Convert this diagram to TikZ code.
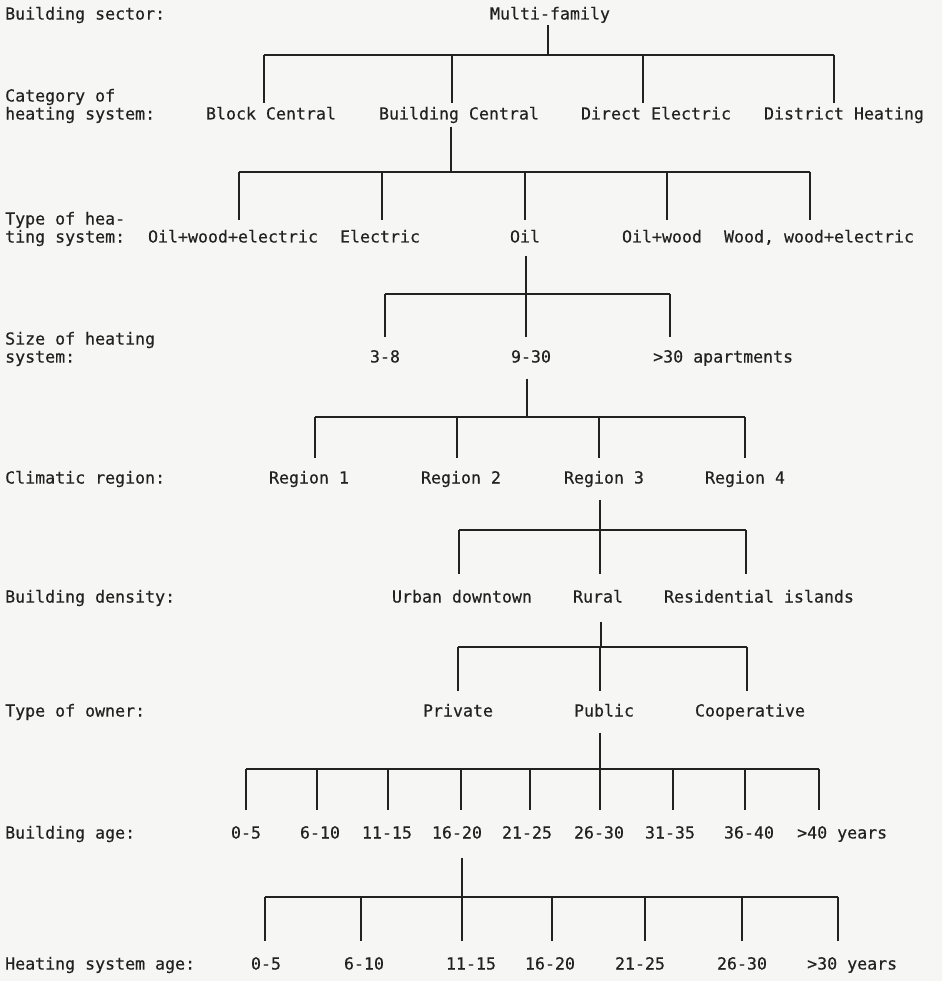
\documentclass[tikz,border=0pt]{standalone}
\usepackage{fontspec}
\setmonofont[FakeBold=0.4]{DejaVu Sans Mono}
\usepackage{tikz}
\definecolor{paper}{HTML}{F6F6F4}
\definecolor{ink}{HTML}{222222}

\begin{document}
\begin{tikzpicture}[x=1pt,y=-1pt,
    font=\ttfamily\fontsize{16.6}{18}\selectfont,
    val/.style={text=ink,text height=12pt,text depth=3pt,inner xsep=0pt,inner ysep=#1},
    val/.default=13pt,
    lbl/.style={text=ink,anchor=west,align=left,inner sep=0pt},
    tie/.style={draw=ink,line width=1.3pt},
    bar/.style={draw=ink,line width=2pt}]
  \fill[paper] (0,0) rectangle (942,981);
  \useasboundingbox (0,0) rectangle (942,981);

  % level names on the left
  \node[lbl] (l0) at (5,15) {Building sector:};
  \node[lbl] (l1) at (5,106) {Category of\\heating system:};
  \node[lbl] (l2) at (5,229) {Type of hea-\\ting system:};
  \node[lbl] (l3) at (5,349) {Size of heating\\system:};
  \node[lbl] (l4) at (5,479) {Climatic region:};
  \node[lbl] (l5) at (5,598) {Building density:};
  \node[lbl] (l6) at (5,712) {Type of owner:};
  \node[lbl] (l7) at (5,834) {Building age:};
  \node[lbl] (l8) at (5,965) {Heating system age:};

  % sector
  \node[val=2.5pt] (mf) at (550,15) {Multi-family};
  \coordinate (j1) at (548,55);
  \draw[tie] (mf.south -| j1) -- (j1);

  % category of heating system
  \node[val=4pt] (blc) at (271,115) {Block Central};
  \node[val=4pt] (buc) at (459,115) {Building Central};
  \node[val=4pt] (dir) at (656,115) {Direct Electric};
  \node[val=4pt] (dis) at (844,115) {District Heating};
  \draw[bar] ([xshift=-7pt]blc.north |- j1) -- ([xshift=-10pt]dis.north |- j1);
  \draw[tie] ([xshift=-7pt]blc.north |- j1) -- ([xshift=-7pt]blc.north);
  \draw[tie] ([xshift=-7pt]buc.north |- j1) -- ([xshift=-7pt]buc.north);
  \draw[tie] ([xshift=-13pt]dir.north |- j1) -- ([xshift=-13pt]dir.north);
  \draw[tie] ([xshift=-10pt]dis.north |- j1) -- ([xshift=-10pt]dis.north);
  \coordinate (j2) at (451,172);
  \draw[tie] (buc.south -| j2) -- (j2);

  % type of heating system
  \node[val=10pt] (owe) at (233,238) {Oil+wood+electric};
  \node[val=10pt] (ele) at (380,238) {Electric};
  \node[val=10pt] (oil) at (525,238) {Oil};
  \node[val=10pt] (ow) at (662,238) {Oil+wood};
  \node[val=10pt] (wwe) at (819,238) {Wood, wood+electric};
  \draw[bar] ([xshift=6pt]owe.north |- j2) -- ([xshift=-9pt]wwe.north |- j2);
  \draw[tie] ([xshift=6pt]owe.north |- j2) -- ([xshift=6pt]owe.north);
  \draw[tie] ([xshift=2pt]ele.north |- j2) -- ([xshift=2pt]ele.north);
  \draw[tie] (oil.north |- j2) -- (oil.north);
  \draw[tie] ([xshift=5pt]ow.north |- j2) -- ([xshift=5pt]ow.north);
  \draw[tie] ([xshift=-9pt]wwe.north |- j2) -- ([xshift=-9pt]wwe.north);
  \coordinate (j3) at (526,294);
  \draw[tie] (oil.south -| j3) -- (j3);

  % size of heating system
  \node[val] (s1) at (385,358) {3-8};
  \node[val] (s2) at (531,358) {9-30};
  \node[val,anchor=west] (s3) at (653,358) {>30 apartments};
  \draw[bar] (s1.north |- j3) -- ([xshift=17pt]s3.north west |- j3);
  \draw[tie] (s1.north |- j3) -- (s1.north);
  \draw[tie] ([xshift=-5pt]s2.north |- j3) -- ([xshift=-5pt]s2.north);
  \draw[tie] ([xshift=17pt]s3.north west |- j3) -- ([xshift=17pt]s3.north west);
  \coordinate (j4) at (527,417);
  \draw[tie] (s2.south -| j4) -- (j4);

  % climatic region
  \node[val] (r1) at (309,479) {Region 1};
  \node[val] (r2) at (461,479) {Region 2};
  \node[val] (r3) at (604,479) {Region 3};
  \node[val] (r4) at (745,479) {Region 4};
  \draw[bar] ([xshift=6pt]r1.north |- j4) -- (r4.north |- j4);
  \draw[tie] ([xshift=6pt]r1.north |- j4) -- ([xshift=6pt]r1.north);
  \draw[tie] ([xshift=-4pt]r2.north |- j4) -- ([xshift=-4pt]r2.north);
  \draw[tie] ([xshift=-5pt]r3.north |- j4) -- ([xshift=-5pt]r3.north);
  \draw[tie] (r4.north |- j4) -- (r4.north);
  \coordinate (j5) at (600,530);
  \draw[tie] (r3.south -| j5) -- (j5);

  % building density
  \node[val=16pt] (urb) at (462,598) {Urban downtown};
  \node[val=16pt] (rur) at (598,598) {Rural};
  \node[val=16pt] (res) at (759,598) {Residential islands};
  \draw[bar] ([xshift=-3pt]urb.north |- j5) -- ([xshift=-13pt]res.north |- j5);
  \draw[tie] ([xshift=-3pt]urb.north |- j5) -- ([xshift=-3pt]urb.north);
  \draw[tie] ([xshift=2pt]rur.north |- j5) -- ([xshift=2pt]rur.north);
  \draw[tie] ([xshift=-13pt]res.north |- j5) -- ([xshift=-13pt]res.north);
  \coordinate (j6) at (601,647);
  \draw[tie] (rur.south -| j6) -- (j6);

  % type of owner
  \node[val] (pri) at (458,712) {Private};
  \node[val] (pub) at (604,712) {Public};
  \node[val] (coo) at (750,712) {Cooperative};
  \draw[bar] (pri.north |- j6) -- ([xshift=-3pt]coo.north |- j6);
  \draw[tie] (pri.north |- j6) -- (pri.north);
  \draw[tie] ([xshift=-4pt]pub.north |- j6) -- ([xshift=-4pt]pub.north);
  \draw[tie] ([xshift=-3pt]coo.north |- j6) -- ([xshift=-3pt]coo.north);
  \coordinate (j7) at (600,769);
  \draw[tie] (pub.south -| j7) -- (j7);

  % building age
  \node[val=16pt] (ba1) at (246,834) {0-5};
  \node[val=16pt] (ba2) at (320,834) {6-10};
  \node[val=16pt] (ba3) at (387,834) {11-15};
  \node[val=16pt] (ba4) at (457,834) {16-20};
  \node[val=16pt] (ba5) at (527,834) {21-25};
  \node[val=16pt] (ba6) at (599,834) {26-30};
  \node[val=16pt] (ba7) at (670,834) {31-35};
  \node[val=16pt] (ba8) at (749,834) {36-40};
  \node[val=16pt,anchor=west] (ba9) at (797,834) {>40 years};
  \draw[bar] (ba1.north |- j7) -- ([xshift=22pt]ba9.north west |- j7);
  \draw[tie] (ba1.north |- j7) -- (ba1.north);
  \draw[tie] ([xshift=-3pt]ba2.north |- j7) -- ([xshift=-3pt]ba2.north);
  \draw[tie] ([xshift=1pt]ba3.north |- j7) -- ([xshift=1pt]ba3.north);
  \draw[tie] ([xshift=4pt]ba4.north |- j7) -- ([xshift=4pt]ba4.north);
  \draw[tie] ([xshift=3pt]ba5.north |- j7) -- ([xshift=3pt]ba5.north);
  \draw[tie] ([xshift=1pt]ba6.north |- j7) -- ([xshift=1pt]ba6.north);
  \draw[tie] ([xshift=3pt]ba7.north |- j7) -- ([xshift=3pt]ba7.north);
  \draw[tie] ([xshift=-4pt]ba8.north |- j7) -- ([xshift=-4pt]ba8.north);
  \draw[tie] ([xshift=22pt]ba9.north west |- j7) -- ([xshift=22pt]ba9.north west);
  \coordinate (j8) at (462,897);
  \draw[tie] (ba4.south -| j8) -- (j8);

  % heating system age
  \node[val=16pt] (ha1) at (266,965) {0-5};
  \node[val=16pt] (ha2) at (364,965) {6-10};
  \node[val=16pt] (ha3) at (471,965) {11-15};
  \node[val=16pt] (ha4) at (550,965) {16-20};
  \node[val=16pt] (ha5) at (640,965) {21-25};
  \node[val=16pt] (ha6) at (742,965) {26-30};
  \node[val=16pt,anchor=west] (ha7) at (807,965) {>30 years};
  \draw[bar] ([xshift=-1pt]ha1.north |- j8) -- ([xshift=31pt]ha7.north west |- j8);
  \draw[tie] ([xshift=-1pt]ha1.north |- j8) -- ([xshift=-1pt]ha1.north);
  \draw[tie] ([xshift=-3pt]ha2.north |- j8) -- ([xshift=-3pt]ha2.north);
  \draw[tie] ([xshift=-9pt]ha3.north |- j8) -- ([xshift=-9pt]ha3.north);
  \draw[tie] ([xshift=2pt]ha4.north |- j8) -- ([xshift=2pt]ha4.north);
  \draw[tie] ([xshift=5pt]ha5.north |- j8) -- ([xshift=5pt]ha5.north);
  \draw[tie] (ha6.north |- j8) -- (ha6.north);
  \draw[tie] ([xshift=31pt]ha7.north west |- j8) -- ([xshift=31pt]ha7.north west);
\end{tikzpicture}
\end{document}
